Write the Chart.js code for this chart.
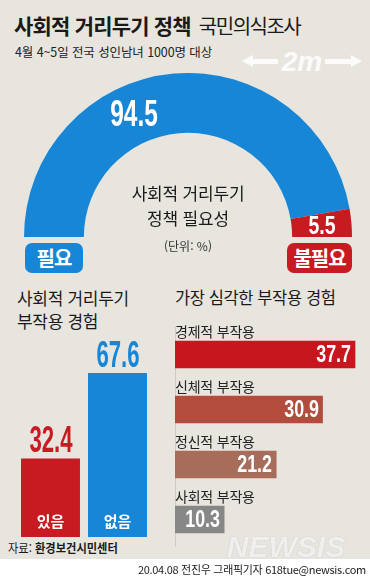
<!DOCTYPE html>
<html lang="ko">
<head>
<meta charset="utf-8">
<title>사회적 거리두기 정책 국민의식조사</title>
<script src="https://cdn.jsdelivr.net/npm/chart.js@4.4.1/dist/chart.umd.min.js"></script>
<style>
html, body { margin: 0; padding: 0; }
body { width: 370px; height: 577px; overflow: hidden; background: #fff; }
#wrap { position: relative; width: 370px; height: 577px; background: #e8e5df; overflow: hidden;
  font-family: "Noto Sans CJK KR", "Noto Sans", sans-serif; color: #1a1a1a; }
canvas { position: absolute; }
.t { position: absolute; white-space: nowrap; line-height: 1; transform: translate(0, -50%); }
.tc { position: absolute; white-space: nowrap; line-height: 1; transform: translate(-50%, -50%); }
.num { position: absolute; white-space: nowrap; line-height: 1;
  font-family: "Liberation Sans", Arial, sans-serif; font-weight: bold; }
.num.mid { transform-origin: 50% 50%; }
.num.right { transform-origin: 100% 50%; }
.tag { position: absolute; top: 243px; height: 30px; border-radius: 7px; color: #fff;
  font-weight: bold; font-size: 20px; letter-spacing: -1px; line-height: 30px; text-align: center; }
.shaft { position: absolute; top: 59px; height: 5px; background: #fbfbfb; }
.head { position: absolute; top: 55px; width: 0; height: 0;
  border-top: 6.5px solid transparent; border-bottom: 6.5px solid transparent; }
</style>
</head>
<body>
<div id="wrap">
  <div class="t" style="left:14px; top:25px; font-size:20px;">
    <span style="font-weight:bold; font-size:21px; letter-spacing:-0.8px;">사회적 거리두기 정책</span><span style="letter-spacing:-1.5px; margin-left:8px;">국민의식조사</span>
  </div>
  <div class="t" style="left:15px; top:52px; font-size:12.5px; letter-spacing:-0.1px; color:#222;">4월 4~5일 전국 성인남녀 1000명 대상</div>

  <!-- 2m 화살표 -->
  <div class="head" style="left:242px; border-right:11px solid #fbfbfb;"></div>
  <div class="shaft" style="left:251px; width:27px;"></div>
  <div class="tc" style="left:302px; top:62px; font-family:'Liberation Sans', Arial, sans-serif; font-weight:bold; font-style:italic; font-size:28px; color:#fbfbfb;">2m</div>
  <div class="shaft" style="left:325px; width:27px;"></div>
  <div class="head" style="left:351px; border-left:11px solid #fbfbfb;"></div>

  <canvas id="gauge" width="328" height="164" style="left:24px; top:73px;"></canvas>
  <div class="tc" style="left:188px; top:192px; font-size:17px; letter-spacing:-0.2px;">사회적 거리두기</div>
  <div class="tc" style="left:188px; top:217px; font-size:17px; letter-spacing:-0.2px;">정책 필요성</div>
  <div class="tc" style="left:188px; top:246px; font-size:12px; color:#333;">(단위: %)</div>

  <div class="t" style="left:17px; top:297px; font-size:17px; letter-spacing:-0.3px;">사회적 거리두기</div>
  <div class="t" style="left:17px; top:320px; font-size:17px; letter-spacing:-0.3px;">부작용 경험</div>
  <canvas id="experience" width="134" height="194" style="left:17px; top:343px;"></canvas>

  <div class="t" style="left:175px; top:297px; font-size:16.5px; letter-spacing:-0.4px;">가장 심각한 부작용 경험</div>
  <canvas id="effects" width="191" height="220" style="left:175px; top:327px;"></canvas>

  <div class="t" style="left:8px; top:548px; font-size:12.5px; transform:translate(0,-50%) scaleX(0.9); transform-origin:0 50%;">자료: <b>환경보건시민센터</b></div>
  <div class="tc" style="left:286px; top:547px; font-family:'Liberation Sans', Arial, sans-serif; font-weight:bold; font-style:italic; font-size:30px; color:rgba(255,255,255,0.8); text-shadow:0 0 1px rgba(140,140,140,0.6);">NEWSIS</div>
  <div style="position:absolute; left:0; top:559px; width:370px; height:18px; background:#fff;"></div>
  <div class="t" style="right:4px; top:569px; font-size:11px; letter-spacing:-0.3px; color:#222;">20.04.08 전진우 그래픽기자 618tue@newsis.com</div>
</div>

<script>
// 데이터
const gaugeLabels = ['필요', '불필요'];
const gaugeValues = [94.5, 5.5];
const gaugeColors = ['#1786d6', '#c71b21'];

const experienceLabels = ['있음', '없음'];
const experienceValues = [32.4, 67.6];
const experienceColors = ['#c71b21', '#1786d6'];

const effectLabels = ['경제적 부작용', '신체적 부작용', '정신적 부작용', '사회적 부작용'];
const effectValues = [37.7, 30.9, 21.2, 10.3];
const effectColors = ['#c8161e', '#b24d3e', '#a86c5b', '#878787'];

const wrap = document.getElementById('wrap');

function addLabel(cls, text, color, css) {
    const d = document.createElement('div');
    d.className = cls;
    d.textContent = text;
    if (color) d.style.color = color;
    if (css) Object.assign(d.style, css);
    wrap.appendChild(d);
    return d;
}

function put(el, x, y) {
    el.style.left = x + 'px';
    el.style.top = y + 'px';
}

// 필요 / 불필요 태그
const tagBoxes = [{ left: 25, width: 58 }, { left: 287, width: 65 }];
gaugeLabels.forEach((lbl, i) => {
    addLabel('tag', lbl, null, {
        left: tagBoxes[i].left + 'px',
        width: tagBoxes[i].width + 'px',
        background: gaugeColors[i]
    });
});

// 게이지 수치 라벨
const gaugeNumStyle = [
    { size: 36, sx: 0.68, at: 0.39 },
    { size: 25, sx: 0.78, at: 0.5 }
];
const gaugeNums = gaugeValues.map((v, i) => addLabel('num mid', v.toFixed(1), '#fff', {
    fontSize: gaugeNumStyle[i].size + 'px',
    transform: 'translate(-50%, -50%) scaleX(' + gaugeNumStyle[i].sx + ')'
}));

const expNums = experienceValues.map((v, i) => addLabel('num mid', v.toFixed(1), experienceColors[i], {
    fontSize: '37px',
    transform: 'translate(-50%, -50%) scaleX(0.6)'
}));
const expCats = experienceLabels.map(l => addLabel('tc', l, '#fff', { fontSize: '15px', fontWeight: 'bold' }));

const effNums = effectValues.map(v => addLabel('num right', v.toFixed(1), '#fff', {
    fontSize: '23.5px',
    transform: 'translate(-100%, -50%) scaleX(0.76)'
}));
const effCats = effectLabels.map(l => addLabel('t', l, '#222', { fontSize: '14px', letterSpacing: '-0.2px' }));

const common = {
    responsive: false,
    devicePixelRatio: 1,
    animation: false,
    events: [],
    layout: { padding: 0 },
    plugins: { legend: { display: false }, tooltip: { enabled: false } }
};

// 반원 게이지
new Chart(document.getElementById('gauge'), {
    type: 'doughnut',
    data: {
        labels: gaugeLabels,
        datasets: [{
            data: gaugeValues,
            backgroundColor: gaugeColors,
            borderWidth: 0,
            hoverOffset: 0
        }]
    },
    options: Object.assign({}, common, {
        rotation: -90,
        circumference: 180,
        cutout: '63.5%'
    }),
    plugins: [{
        id: 'gaugeLabels',
        afterDraw(chart) {
            const cv = chart.canvas;
            chart.getDatasetMeta(0).data.forEach((arc, i) => {
                const p = arc.getProps(['x', 'y', 'startAngle', 'endAngle', 'innerRadius', 'outerRadius'], true);
                const a = p.startAngle + (p.endAngle - p.startAngle) * gaugeNumStyle[i].at;
                const r = (p.innerRadius + p.outerRadius) / 2;
                put(gaugeNums[i], cv.offsetLeft + p.x + Math.cos(a) * r, cv.offsetTop + p.y + Math.sin(a) * r);
            });
        }
    }]
});

// 부작용 경험 (세로 막대)
new Chart(document.getElementById('experience'), {
    type: 'bar',
    data: {
        labels: experienceLabels,
        datasets: [{
            data: experienceValues,
            backgroundColor: experienceColors,
            borderWidth: 0,
            barPercentage: 0.88,
            categoryPercentage: 1
        }]
    },
    options: Object.assign({}, common, {
        scales: {
            x: { display: false },
            y: { display: false, min: 0, max: 80 }
        }
    }),
    plugins: [{
        id: 'expLabels',
        afterDraw(chart) {
            const cv = chart.canvas;
            chart.getDatasetMeta(0).data.forEach((bar, i) => {
                const p = bar.getProps(['x', 'y', 'base'], true);
                put(expNums[i], cv.offsetLeft + p.x, cv.offsetTop + p.y - 19.5);
                put(expCats[i], cv.offsetLeft + p.x, cv.offsetTop + p.base - 17);
            });
        }
    }]
});

// 가장 심각한 부작용 (가로 막대)
new Chart(document.getElementById('effects'), {
    type: 'bar',
    data: {
        labels: effectLabels,
        datasets: [{
            data: effectValues,
            backgroundColor: effectColors,
            borderWidth: 0,
            barThickness: 27
        }]
    },
    options: Object.assign({}, common, {
        indexAxis: 'y',
        scales: {
            x: { display: false, min: 0, max: 40 },
            y: {
                display: true,
                grid: { display: false, drawTicks: false },
                border: { display: true, color: '#cfcac1', width: 1 },
                ticks: { display: false }
            }
        }
    }),
    plugins: [{
        id: 'effLabels',
        afterDraw(chart) {
            const cv = chart.canvas;
            chart.getDatasetMeta(0).data.forEach((bar, i) => {
                const p = bar.getProps(['x', 'y', 'base'], true);
                put(effNums[i], cv.offsetLeft + p.x - 4, cv.offsetTop + p.y);
                put(effCats[i], cv.offsetLeft + p.base, cv.offsetTop + p.y - 24);
            });
        }
    }]
});
</script>
</body>
</html>
